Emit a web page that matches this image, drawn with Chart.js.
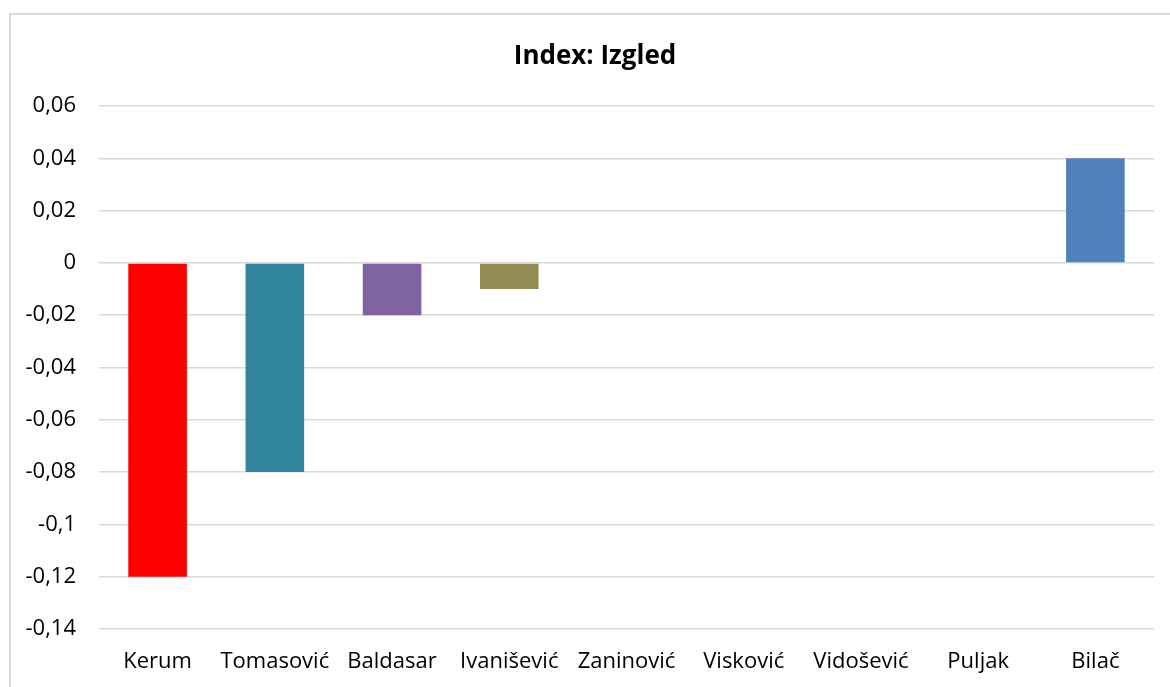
<!DOCTYPE html>
<html>
<head>
<meta charset="utf-8">
<script src="https://cdn.jsdelivr.net/npm/chart.js@4.4.0/dist/chart.umd.min.js"></script>
<style>
  html, body { margin: 0; padding: 0; background: #fff; overflow: hidden; }
  #frame { position: absolute; left: 9px; top: 13px; width: 1200px; height: 720px; border-left: 2px solid #d9d9d9; border-top: 2px solid #d9d9d9; box-sizing: border-box; }
  #wrap { position: absolute; left: 0; top: 0; width: 1170px; height: 687px; }
  #title { position: absolute; left: 0; top: 39px; width: 1190px; text-align: center; font-family: 'Open Sans', 'Liberation Sans', sans-serif; font-weight: bold; font-size: 26px; line-height: 30px; color: #000; }
</style>
</head>
<body>
<div id="frame"></div>
<div id="wrap"><canvas id="c" width="1170" height="687"></canvas></div>
<div id="title"></div>
<script>
const categories = ['Kerum', 'Tomasović', 'Baldasar', 'Ivanišević', 'Zaninović', 'Visković', 'Vidošević', 'Puljak', 'Bilač'];
const values = [-0.12, -0.08, -0.02, -0.01, 0, 0, 0, 0, 0.04];
const barColors = ['#FF0000', '#31859C', '#8064A2', '#948A54', '#C0504D', '#9BBB59', '#F79646', '#4BACC6', '#4F81BD'];
const yTicks = { min: -0.14, max: 0.06, step: 0.02 };
const titleText = 'Index: Izgled';

document.getElementById('title').textContent = titleText;

const FONT = "'Open Sans', 'Liberation Sans', sans-serif";

new Chart(document.getElementById('c'), {
  type: 'bar',
  data: {
    labels: categories,
    datasets: [{
      data: values,
      backgroundColor: barColors,
      borderWidth: 0,
      barPercentage: 0.5,
      categoryPercentage: 1.0
    }]
  },
  options: {
    responsive: false,
    animation: false,
    devicePixelRatio: 1,
    layout: { padding: { left: 0, right: 16, top: 106, bottom: 0 } },
    plugins: {
      legend: { display: false },
      tooltip: { enabled: false },
      title: { display: false }
    },
    scales: {
      x: {
        grid: { display: false, drawTicks: false },
        border: { display: false },
        ticks: { color: '#000', font: { family: FONT, size: 22 }, padding: 20, maxRotation: 0, autoSkip: false },
        afterFit: (s) => { s.height = 58; }
      },
      y: {
        min: yTicks.min,
        max: yTicks.max,
        grid: { color: '#d9d9d9', lineWidth: 1.5, drawTicks: false },
        border: { display: false },
        ticks: {
          stepSize: yTicks.step,
          color: '#000',
          font: { family: FONT, size: 22 },
          padding: 23,
          callback: (v) => {
            const r = Math.round(v * 100) / 100;
            return String(r).replace('.', ',');
          }
        },
        afterFit: (s) => { s.width = 99; }
      }
    }
  }
});
</script>
</body>
</html>
